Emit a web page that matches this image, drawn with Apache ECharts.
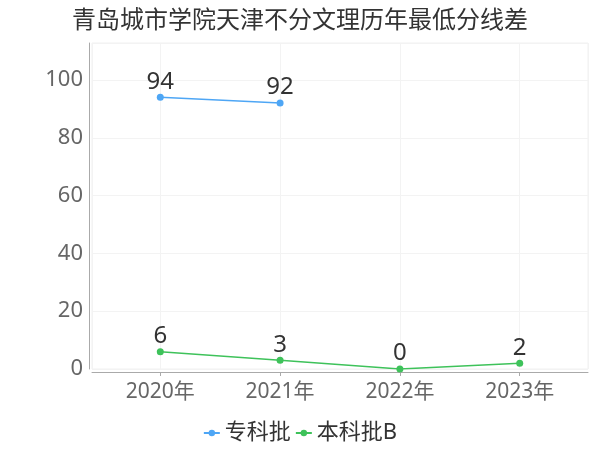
<!DOCTYPE html>
<html>
<head>
<meta charset="utf-8">
<script src="https://cdn.jsdelivr.net/npm/echarts@6/dist/echarts.min.js"></script>
<style>html,body{margin:0;padding:0;background:#fff}#c{width:600px;height:450px}</style>
</head>
<body>
<div id="c"></div>
<script>
var titleText = '青岛城市学院天津不分文理历年最低分线差';
var categories = ['2020年', '2021年', '2022年', '2023年'];
var seriesNames = ['专科批', '本科批B'];
var zhuanke = [94, 92, null, null];
var benkeB = [6, 3, 0, 2];
var yTicks = [0, 20, 40, 60, 80, 100];

function pairs(arr) {
  var out = [];
  for (var i = 0; i < arr.length; i++) {
    if (arr[i] !== null) out.push([i, arr[i]]);
  }
  return out;
}

var chart = echarts.init(document.getElementById('c'), null, {renderer: 'canvas'});
var font = '"Noto Sans", "Noto Sans CJK SC", sans-serif';
chart.setOption({
  animation: false,
  color: ['#4ea6f5', '#3ec25a'],
  title: {
    text: titleText,
    left: 'center',
    top: 4,
    textStyle: {fontSize: 24, fontWeight: 'normal', color: '#333', fontFamily: font}
  },
  legend: {
    bottom: 1,
    left: 'center',
    itemGap: 4,
    itemWidth: 16,
    itemHeight: 8,
    textStyle: {fontSize: 22, color: '#333', fontFamily: font},
    data: seriesNames
  },
  grid: {
    left: 92, right: 12, top: 43, bottom: 81,
    show: true, borderColor: '#f0f0f0', borderWidth: 1
  },
  xAxis: {
    type: 'value',
    min: -0.57,
    max: 3.57,
    offset: 3,
    axisLine: {show: true, onZero: false, lineStyle: {color: '#aaa'}},
    axisTick: {show: true, length: 4, lineStyle: {color: '#aaa'}},
    splitLine: {show: true, lineStyle: {color: '#f3f3f3'}},
    axisLabel: {
      showMinLabel: false, showMaxLabel: false,
      fontSize: 21, color: '#666', fontFamily: font, margin: 10,
      formatter: function (v) {
        var i = Math.round(v);
        return (Math.abs(v - i) < 1e-6 && categories[i]) ? categories[i] : '';
      }
    }
  },
  yAxis: {
    type: 'value',
    min: 0,
    max: 112.8,
    interval: 20,
    offset: 3,
    axisLine: {show: true, onZero: false, lineStyle: {color: '#aaa'}},
    axisTick: {show: false},
    splitLine: {show: true, lineStyle: {color: '#f3f3f3'}},
    axisLabel: {
      showMaxLabel: false,
      fontSize: 22, color: '#666', fontFamily: font, margin: 6,
      formatter: function (v) { return yTicks.indexOf(v) >= 0 ? String(v) : ''; }
    }
  },
  series: [
    {
      name: seriesNames[0], type: 'line', data: pairs(zhuanke),
      symbol: 'circle', symbolSize: 7, lineStyle: {width: 1.5},
      label: {show: true, position: 'top', fontSize: 24, color: '#333', fontFamily: font, distance: 0}
    },
    {
      name: seriesNames[1], type: 'line', data: pairs(benkeB),
      symbol: 'circle', symbolSize: 7, lineStyle: {width: 1.5},
      label: {show: true, position: 'top', fontSize: 24, color: '#333', fontFamily: font, distance: 0}
    }
  ]
});
</script>
</body>
</html>
